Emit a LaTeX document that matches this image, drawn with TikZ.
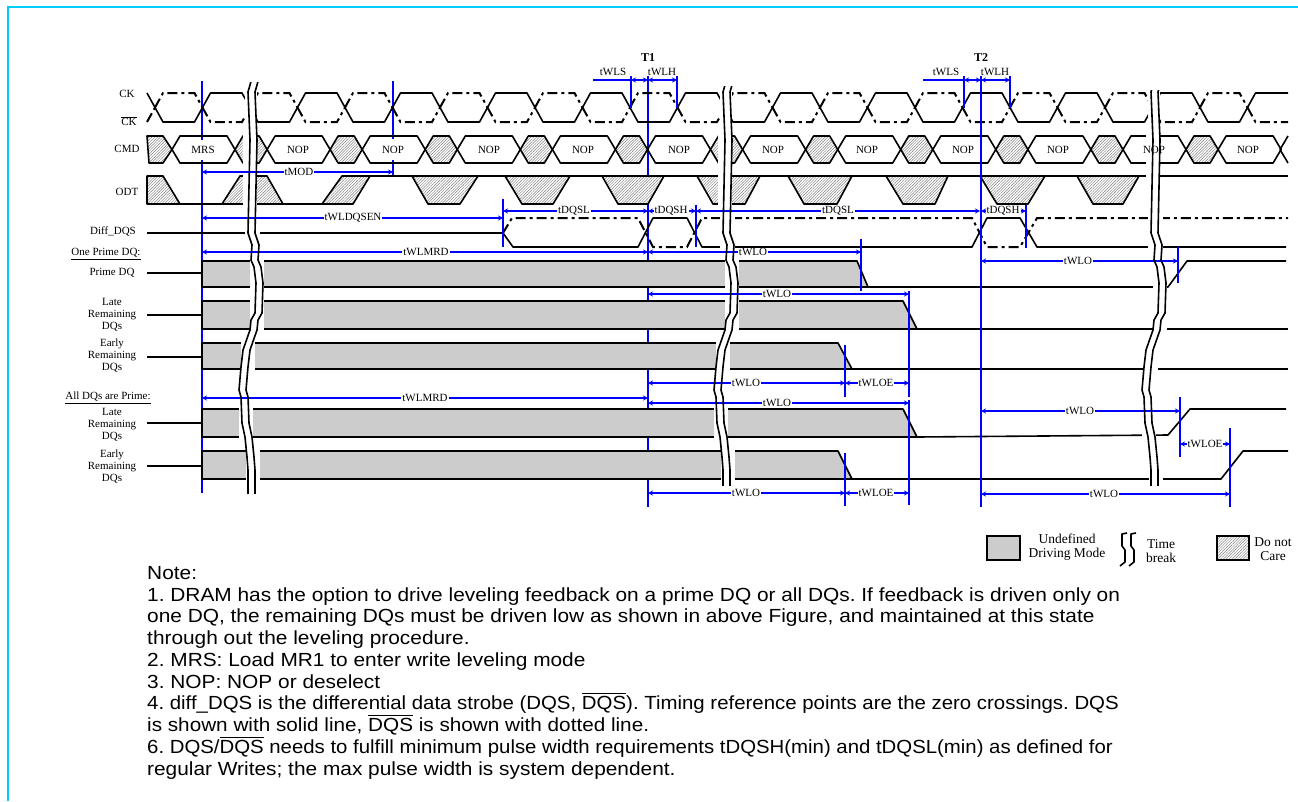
\documentclass[tikz,border=0pt]{standalone}
\usepackage{amsmath}
\usepackage{fontspec}
\setmainfont{Liberation Serif}
\newfontfamily\notefont{Liberation Sans}
\usetikzlibrary{arrows.meta,patterns.meta}
\definecolor{framecyan}{HTML}{00CCFF}
\definecolor{undefgray}{HTML}{CCCCCC}
\frenchspacing
\newcommand{\ovl}[1]{\ensuremath{\overline{\mbox{#1}}}}
\newcommand{\wide}[2][1.098]{\scalebox{#1}[1]{#2}}
\newcommand{\tdim}[5]{%
    \draw[dimline] (#2,#1) -- (#3,#1);
    \node[dimlabel] (#4) at (#5,#1) {#4};
}
\tikzset{
    sigline/.style={line width=1.6pt, line join=round},
    dashline/.style={line width=2pt, dash pattern=on 10pt off 4pt on 3pt off 4pt},
    blueline/.style={blue, line width=2pt},
    dimline/.style={blue, line width=1.5pt, {Stealth[length=5pt,width=5pt]}-{Stealth[length=5pt,width=5pt]}},
    dimlabel/.style={fill=white, inner xsep=1pt, inner ysep=0pt, font=\fontsize{11}{12}\selectfont},
    rowlabel/.style={align=center, inner sep=0pt, font=\fontsize{11}{12}\selectfont},
    legendlabel/.style={align=center, inner sep=0pt, font=\fontsize{13.5}{14}\selectfont},
    notelabel/.style={anchor=base west, inner sep=0pt, font=\notefont\fontsize{19}{21}\selectfont},
    hatchbox/.style={preaction={fill=white}, pattern={Lines[angle=45,distance=2pt,line width=.45pt]}, pattern color=gray},
    breakline/.style={line width=1.6pt, line join=round}
}
\begin{document}
\begin{tikzpicture}[x=1pt, y=-1pt]
    \useasboundingbox (0,0) rectangle (1298,801);
    \draw[framecyan, line width=2pt] (8,801) -- (8,7) -- (1298,7);

    % blue lines that the waveforms hide
    \draw[blueline] (202,81) -- (202,493);
    \draw[blueline] (648,76) -- (648,507);
    \draw[blueline] (393,81) -- (393,176);

    % CK
    \foreach \k in {0,...,22} {
        \pgfmathsetmacro\xa{155+47.5*\k}
        \pgfmathsetmacro\xb{\xa+47.5}
        \pgfmathsetmacro\ysol{isodd(\k)?93:122}
        \pgfmathsetmacro\ydas{isodd(\k)?122:93}
        \draw[sigline] (\xa,107.5) -- (\xa+8,\ysol) -- (\xb-8,\ysol) -- (\xb,107.5);
        \draw[dashline] (\xa,107.5) -- (\xa+8,\ydas) -- (\xb-8,\ydas) -- (\xb,107.5);
    }
    \draw[sigline] (147,93) -- (155,107.5);
    \draw[dashline] (147,122) -- (155,107.5);
    \draw[sigline] (1247.5,107.5) -- (1255.5,93) -- (1288,93);
    \draw[dashline] (1247.5,107.5) -- (1255.5,122) -- (1288,122);

    % CMD
    \draw[sigline, hatchbox] (147,136) -- (163,136) -- (172,149.5) -- (163,163) -- (149,163) -- cycle;
    \foreach \i in {0,...,11} {
        \pgfmathsetmacro\xa{172+95.1*\i}
        \pgfmathsetmacro\xb{\xa+63}
        \pgfmathsetmacro\xc{\xa+95.1}
        \draw[sigline] (\xa,149.5) -- (\xa+8,136) -- (\xb-8,136) -- (\xb,149.5) -- (\xb-8,163) -- (\xa+8,163) -- cycle;
        \ifnum\i<11
            \draw[sigline, hatchbox] (\xb,149.5) -- (\xb+8,136) -- (\xc-8,136) -- (\xc,149.5) -- (\xc-8,163) -- (\xb+8,163) -- cycle;
        \fi
    }
    \draw[sigline] (1288,136) -- (1280,149.5) -- (1288,163);

    % ODT
    \draw[sigline, hatchbox] (147,204) -- (147,176) -- (163,176) -- (180,204) -- cycle;
    \draw[sigline, hatchbox] (222,204) -- (240,176) -- (267,176) -- (283,204) -- cycle;
    \draw[sigline, hatchbox] (322,204) -- (342,176) -- (370,176) -- (353,204) -- cycle;
    \draw[sigline] (147,204) -- (353,204);
    \draw[sigline] (342,176) -- (1288,176);
    \foreach \xa/\xb/\xc/\xd in {412/428/460/478, 505/522/553/570, 602/618/648/664, 697/713/745/760,
                                 788/804/837/852, 886/903/935/948, 980/997/1028/1045, 1077/1093/1123/1139}
        \draw[sigline, hatchbox] (\xa,176) -- (\xb,204) -- (\xc,204) -- (\xd,176) -- cycle;

    % Diff_DQS
    \draw[sigline] (147,233) -- (503,233) -- (513,247) -- (638,247) -- (653,218) -- (687,218) -- (702,247)
        -- (972,247) -- (987,218) -- (1020,218) -- (1037,247) -- (1286,247);
    \draw[dashline] (503,233) -- (512,218) -- (638,218) -- (653,247) -- (687,247) -- (702,218)
        -- (972,218) -- (987,247) -- (1020,247) -- (1037,218) -- (1288,218);

    % DQ groups
    \foreach \yt/\yb/\ym/\xa/\xb in {261/287/273/857/868, 301/329/315/903/917, 343/369/357/838/852,
                                     409/437/423/903/917, 451/479/466/838/852} {
        \draw[sigline] (147,\ym) -- (202,\ym);
        \draw[sigline, fill=undefgray] (202,\yb) -- (202,\yt) -- (\xa,\yt) -- (\xb,\yb) -- cycle;
    }
    \draw[sigline] (868,287) -- (1168,287) -- (1187,261) -- (1286,261);
    \draw[sigline] (917,329) -- (1288,329);
    \draw[sigline] (852,369) -- (1288,369);
    \draw[sigline] (917,437) -- (1168,435) -- (1190,409) -- (1286,409);
    \draw[sigline] (852,479) -- (1221,479) -- (1243,451) -- (1288,451);

    % blue ticks
    \draw[blueline] (981,76) -- (981,507);
    \foreach \xa/\ya/\yb in {631/76/108, 677/76/108, 964/76/108, 1010/76/108, 503/199/247, 696/205/247,
                             1026/205/248, 861/239/291, 909/291/397, 909/400/505, 845/345/397, 845/453/506,
                             1178/247/283, 1180/397/457, 1230/428/507}
        \draw[blueline] (\xa,\ya) -- (\xa,\yb);
    \draw[blueline] (593,80) -- (631,80);
    \draw[blueline] (923,80) -- (964,80);

    % white gaps of the time breaks
    \foreach \dx in {0,475,903}
        \foreach \ya/\yb/\xa/\xb in {88/126/245/257, 134/165/243/257, 174/206/243/257, 214/250/245/260, 258/289/250/264,
                                     298/331/250/264, 341/371/241/255, 407/439/239/253, 449/481/246/260}
            \fill[white] (\xa+\dx,\ya) rectangle (\xb+\dx,\yb);

    % timing arrows
    \draw[dimline] (631,80) -- (648,80);
    \draw[dimline] (648,80) -- (677,80);
    \draw[dimline] (964,80) -- (981,80);
    \draw[dimline] (981,80) -- (1010,80);
    \tdim{172}{202}{393}{tMOD}{299}
    \tdim{218}{202}{503}{tWLDQSEN}{353}
    \tdim{252}{202}{648}{tWLMRD}{426}
    \tdim{398}{202}{648}{tWLMRD}{425}
    \tdim{211}{503}{648}{tDQSL}{574}
    \tdim{211}{648}{696}{tDQSH}{671}
    \tdim{211}{696}{980}{tDQSL}{838}
    \tdim{211}{981}{1026}{tDQSH}{1003}
    \tdim{252}{648}{861}{tWLO}{753}
    \tdim{294}{648}{909}{tWLO}{777}
    \tdim{383}{648}{845}{tWLO}{746}
    \tdim{403}{648}{909}{tWLO}{777}
    \tdim{493}{648}{845}{tWLO}{746}
    \tdim{383}{845}{909}{tWLOE}{876}
    \tdim{493}{845}{909}{tWLOE}{876}
    \tdim{261}{981}{1178}{tWLO}{1078}
    \tdim{411}{981}{1180}{tWLO}{1080}
    \tdim{444}{1180}{1230}{tWLOE}{1205}
    \tdim{494}{981}{1230}{tWLO}{1104}

    \node[rowlabel, font=\fontsize{12}{12}\selectfont\bfseries] (T1) at (648,58) {T1};
    \node[rowlabel, font=\fontsize{12}{12}\selectfont\bfseries] (T2) at (981,58) {T2};
    \node[rowlabel] (tWLS1) at (613,72) {tWLS};
    \node[rowlabel] (tWLH1) at (662,72) {tWLH};
    \node[rowlabel] (tWLS2) at (946,72) {tWLS};
    \node[rowlabel] (tWLH2) at (995,72) {tWLH};

    % command labels
    \node[dimlabel, minimum height=20pt] (mrs) at (203,149.5) {MRS};
    \foreach \x [count=\i] in {298,393,489,583,679,773,867,963,1058,1154,1248}
        \node[dimlabel, minimum height=20pt, fill=none] (nop\i) at (\x,149.5) {NOP};
    \fill[white] (381,139) rectangle (405,160);
    \node[rowlabel] (nopb) at (393,149.5) {NOP};

    % row labels
    \node[rowlabel] (ck) at (127,94) {CK};
    \node[rowlabel] (ckbar) at (129,121) {\ovl{CK}};
    \node[rowlabel] (cmd) at (127,149) {CMD};
    \node[rowlabel] (odt) at (127,192) {ODT};
    \node[rowlabel] (diffdqs) at (113,232) {Diff\_DQS};
    \node[rowlabel] (oneprime) at (106,254) {\underline{One Prime DQ:}};
    \node[rowlabel] (primedq) at (112,273) {Prime DQ};
    \node[rowlabel] (lateone) at (112,315) {Late\\Remaining\\DQs};
    \node[rowlabel] (earlyone) at (112,356) {Early\\Remaining\\DQs};
    \node[rowlabel] (allprime) at (108,398) {\underline{All DQs are Prime:}};
    \node[rowlabel] (lateall) at (112,425) {Late\\Remaining\\DQs};
    \node[rowlabel] (earlyall) at (112,467) {Early\\Remaining\\DQs};

    % time breaks
    \foreach \dx/\ytop/\ybot in {0/82/493, 475/86/485, 903/90/485}
        \foreach \dy in {0,7} {
            \begin{scope}
                \clip (0,\ytop) rectangle (1298,\ybot);
                \draw[breakline, xshift=\dx pt+\dy pt] (252,78) -- (248,92) -- (250,140) -- (248,233) -- (252,245)
                    -- (251,260) -- (254,267) -- (256,283) -- (255,313) -- (251,320) -- (250,330) -- (243,350)
                    -- (241,367) -- (239,390) -- (241,397) -- (242,423) -- (245,437) -- (247,457) -- (248,470) -- (248,495);
            \end{scope}
        }

    % legend
    \draw[line width=1.8pt, fill=undefgray] (987,536) rectangle (1020,560);
    \node[legendlabel] (undefined) at (1067,547) {Undefined\\Driving Mode};
    \foreach \dx in {0,9}
        \draw[breakline, xshift=\dx pt] (1127,533) -- (1122,534) -- (1122,546) -- (1125,550) -- (1125,562) -- (1120,566);
    \node[legendlabel] (timebreak) at (1161,551) {Time\\break};
    \draw[line width=1.8pt, hatchbox] (1217,536) rectangle (1249,560);
    \node[legendlabel] (donotcare) at (1273,549) {Do not\\Care};

    % notes
    \node[notelabel] (note0) at (147,579) {\wide{Note:}};
    \node[notelabel] (note1) at (147,601) {\wide{1. DRAM has the option to drive leveling feedback on a prime DQ or all DQs. If feedback is driven only on}};
    \node[notelabel] (note2) at (147,622.5) {\wide{one DQ, the remaining DQs must be driven low as shown in above Figure, and maintained at this state}};
    \node[notelabel] (note3) at (147,644) {\wide{through out the leveling procedure.}};
    \node[notelabel] (note4) at (147,666) {\wide{2. MRS: Load MR1 to enter write leveling mode}};
    \node[notelabel] (note5) at (147,688) {\wide{3. NOP: NOP or deselect}};
    \node[notelabel] (note6) at (147,709.5) {\wide[1.074]{4. diff\_DQS is the differential data strobe (DQS, \ovl{DQS}). Timing reference points are the zero crossings. DQS}};
    \node[notelabel] (note7) at (147,731) {\wide[1.09]{is shown with solid line, \ovl{DQS} is shown with dotted line.}};
    \node[notelabel] (note8) at (147,753) {\wide[1.072]{6. DQS/\ovl{DQS} needs to fulfill minimum pulse width requirements tDQSH(min) and tDQSL(min) as defined for}};
    \node[notelabel] (note9) at (147,775) {\wide{regular Writes; the max pulse width is system dependent.}};
\end{tikzpicture}
\end{document}
